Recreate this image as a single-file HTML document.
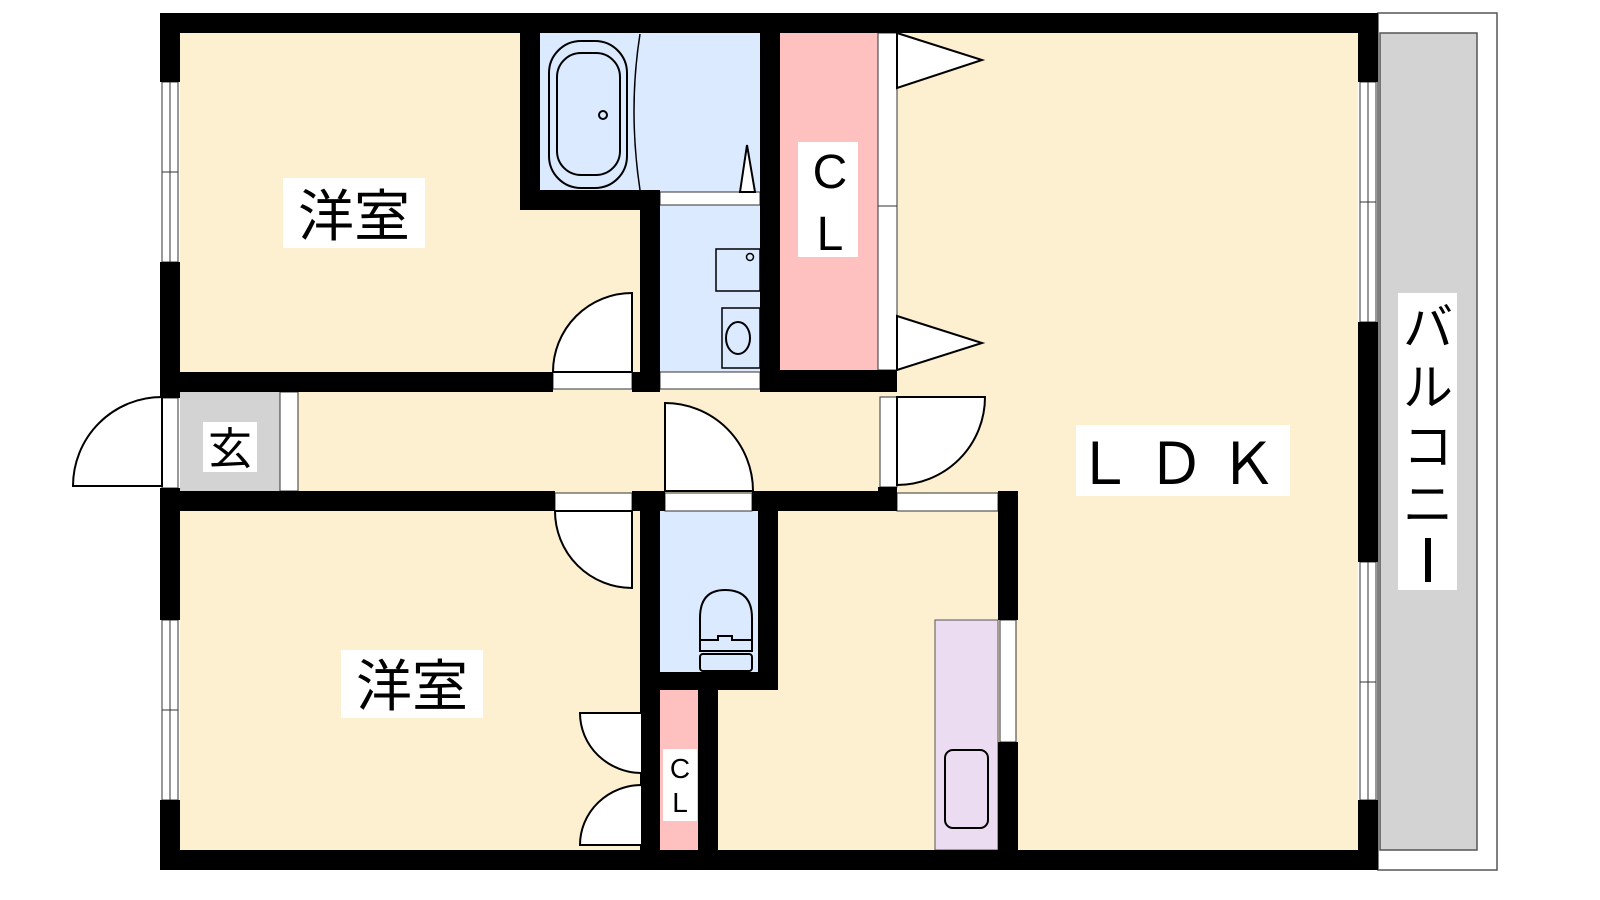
<!DOCTYPE html>
<html><head><meta charset="utf-8"><style>
html,body{margin:0;padding:0;background:#fff;}
svg{display:block}
text{font-family:"Liberation Sans","Noto Sans CJK JP",sans-serif;}
</style></head><body>
<svg width="1600" height="900" viewBox="0 0 1600 900" xmlns="http://www.w3.org/2000/svg">
<!-- balcony -->
<rect x="1378" y="13" width="119" height="857" fill="#fff" stroke="#555" stroke-width="1.5"/>
<rect x="1380" y="33" width="97" height="817" fill="#d3d3d3" stroke="#555" stroke-width="1.5"/>
<!-- floor base -->
<rect x="180" y="33" width="1178" height="817" fill="#fdf0d0"/>
<!-- blue rooms -->
<rect x="540" y="33" width="220" height="159" fill="#dbeaff"/>
<rect x="660" y="205" width="100" height="170" fill="#dbeaff"/>
<rect x="660" y="511" width="98" height="161" fill="#dbeaff"/>
<!-- pink CL -->
<rect x="780" y="33" width="98" height="337" fill="#ffc0c0"/>
<rect x="660" y="690" width="38" height="160" fill="#ffc0c0"/>
<!-- genkan -->
<rect x="180" y="392" width="100" height="99" fill="#d3d3d3"/>
<!-- kitchen counter -->
<rect x="935" y="620" width="63" height="230" fill="#ecdcf2" stroke="#555" stroke-width="1"/>
<rect x="945" y="750" width="43" height="78" rx="8" fill="none" stroke="#000" stroke-width="2"/>

<!-- white strips (doors/windows) -->
<g fill="#fff" stroke="#333" stroke-width="1">
<rect x="162" y="82" width="16" height="180"/>
<rect x="162" y="620" width="16" height="180"/>
<rect x="1360" y="82" width="16" height="240"/>
<rect x="1360" y="562" width="16" height="238"/>
<rect x="878" y="33" width="19" height="337"/>
<rect x="660" y="192" width="100" height="13"/>
<rect x="553" y="372" width="79" height="17"/>
<rect x="660" y="372" width="100" height="17"/>
<rect x="280" y="392" width="18" height="99"/>
<rect x="162" y="398" width="16" height="90"/>
<rect x="880" y="397" width="17" height="90"/>
<rect x="555" y="493" width="77" height="18"/>
<rect x="665" y="493" width="87" height="18"/>
<rect x="897" y="493" width="101" height="18"/>
<rect x="1000" y="620" width="16" height="122"/>
<rect x="642" y="712" width="15" height="134"/>
</g>
<g stroke="#333" stroke-width="1">
<line x1="878" y1="206" x2="897" y2="206"/>
<line x1="170" y1="82" x2="170" y2="262"/><line x1="162" y1="172" x2="178" y2="172"/>
<line x1="170" y1="620" x2="170" y2="800"/><line x1="162" y1="710" x2="178" y2="710"/>
<line x1="1368" y1="82" x2="1368" y2="322"/><line x1="1360" y1="202" x2="1376" y2="202"/>
<line x1="1368" y1="562" x2="1368" y2="800"/><line x1="1360" y1="682" x2="1376" y2="682"/>
</g>

<!-- walls -->
<g fill="#000">
<rect x="160" y="13" width="1218" height="20"/>
<rect x="160" y="850" width="1218" height="20"/>
<rect x="160" y="13" width="20" height="69"/>
<rect x="160" y="262" width="20" height="136"/>
<rect x="160" y="488" width="20" height="132"/>
<rect x="160" y="800" width="20" height="70"/>
<rect x="1358" y="13" width="20" height="69"/>
<rect x="1358" y="322" width="20" height="240"/>
<rect x="1358" y="800" width="20" height="70"/>
<rect x="520" y="33" width="20" height="177"/>
<rect x="520" y="190" width="140" height="20"/>
<rect x="640" y="190" width="20" height="202"/>
<rect x="760" y="33" width="20" height="357"/>
<rect x="180" y="372" width="373" height="20"/>
<rect x="632" y="372" width="28" height="20"/>
<rect x="760" y="370" width="137" height="22"/>
<rect x="180" y="491" width="375" height="20"/>
<rect x="632" y="491" width="33" height="20"/>
<rect x="752" y="491" width="145" height="20"/>
<rect x="878" y="487" width="19" height="24"/>
<rect x="640" y="491" width="20" height="359"/>
<rect x="758" y="491" width="20" height="199"/>
<rect x="640" y="672" width="138" height="18"/>
<rect x="698" y="690" width="20" height="160"/>
<rect x="998" y="491" width="20" height="129"/>
<rect x="998" y="742" width="20" height="108"/>
</g>

<!-- doors -->
<g fill="#fff" stroke="#000" stroke-width="2">
<path d="M632 293 L632 372 L553 372 A79 79 0 0 1 632 293 Z"/>
<path d="M632 511 L632 588 A77 77 0 0 1 555 511 Z"/>
<path d="M665 403 L665 491 L753 491 A88 88 0 0 0 665 403 Z"/>
<path d="M897 397 L985 397 A88 88 0 0 1 897 485 Z"/>
<path d="M162 486 L73 486 A89 89 0 0 1 162 397 Z"/>
<path d="M642 713 L580 713 A62 60 0 0 0 642 773 Z"/>
<path d="M642 845 L580 845 A62 60 0 0 1 642 785 Z"/>
<path d="M897 33 L982 60 L897 88 Z"/>
<path d="M897 316 L982 343 L897 370 Z"/>
<path d="M740 192 L747 145 L755 192 Z"/>
</g>

<!-- fixtures -->
<g fill="none" stroke="#000" stroke-width="2">
<rect x="549" y="41" width="78" height="147" rx="32"/>
<rect x="557" y="53" width="63" height="122" rx="24"/>
<circle cx="603" cy="115" r="4"/>
<path d="M640 34 Q628 110 640 190" stroke-width="1.5"/>
<rect x="716" y="249" width="44" height="42" stroke-width="1.5"/>
<circle cx="750" cy="257" r="3.5" stroke-width="1.5"/>
<rect x="722" y="308" width="38" height="60" stroke-width="1.5"/>
<ellipse cx="738" cy="338" rx="12" ry="16"/>
<path d="M700 651 L700 618 Q700 590 725 590 Q752 590 752 618 L752 651 Z"/>
<path d="M700 651 L700 640 L718 640 L718 636 L732 636 L732 640 L752 640 L752 651"/>
<rect x="700" y="668" width="52" height="17" rx="3" transform="translate(0,-14)"/>
</g>

<!-- labels -->
<rect x="283" y="178" width="142" height="70" fill="#fff"/>
<text x="354" y="236" font-size="56" text-anchor="middle">洋室</text>
<rect x="341" y="650" width="142" height="68" fill="#fff"/>
<text x="412" y="706" font-size="56" text-anchor="middle">洋室</text>
<rect x="203" y="422" width="54" height="50" fill="#fff"/>
<text x="230" y="464" font-size="44" text-anchor="middle">玄</text>
<rect x="798" y="142" width="60" height="115" fill="#fff"/>
<text x="830" y="188" font-size="48" text-anchor="middle">C</text>
<text x="830" y="250" font-size="48" text-anchor="middle">L</text>
<rect x="663" y="749" width="34" height="72" fill="#fff"/>
<text x="680" y="778" font-size="28" text-anchor="middle">C</text>
<text x="680" y="812" font-size="28" text-anchor="middle">L</text>
<rect x="1076" y="425" width="214" height="71" fill="#fff"/>
<text x="1183" y="484" font-size="58" text-anchor="middle" letter-spacing="14">ＬＤＫ</text>
<rect x="1398" y="293" width="59" height="297" fill="#fff"/>
<text x="1428" y="345" font-size="50" text-anchor="middle">バ</text>
<text x="1428" y="405" font-size="50" text-anchor="middle">ル</text>
<text x="1428" y="464" font-size="50" text-anchor="middle">コ</text>
<text x="1428" y="522" font-size="50" text-anchor="middle">ニ</text>
<line x1="1428" y1="538" x2="1428" y2="582" stroke="#000" stroke-width="6"/>
</svg>
</body></html>
